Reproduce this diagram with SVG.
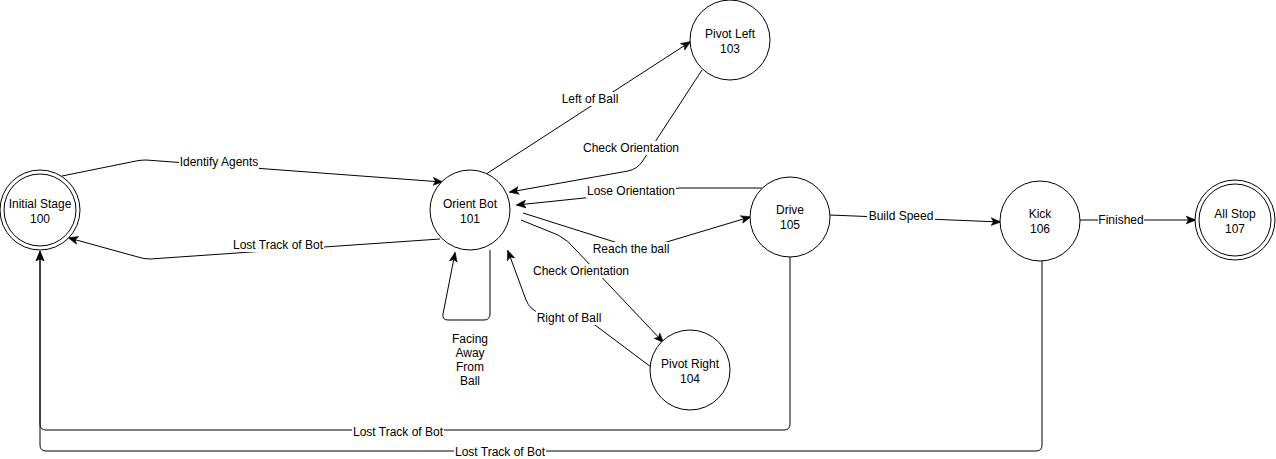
<svg xmlns="http://www.w3.org/2000/svg" width="1276" height="459" viewBox="0 0 1276 459">
<style>
.n{fill:#fff;stroke:#000;stroke-width:1}
.t{font-family:"Liberation Sans",Arial,sans-serif;font-size:12px;fill:#000;text-anchor:middle}
.e{fill:none;stroke:#000;stroke-width:1}
.bg{fill:#fff}
</style>
<defs>
<marker id="a" viewBox="0 0 10 10" refX="9" refY="5" markerWidth="10" markerHeight="10" markerUnits="userSpaceOnUse" orient="auto">
<path d="M0,1 L10,5 L0,9 L2.5,5 Z" fill="#000" stroke="#000" stroke-width="0.5"/>
</marker>
</defs>
<rect width="1276" height="459" fill="#fff"/>
<g id="edges">
<path class="e" d="M62 176 L136 161 Q141 160 146 160 L442 182" marker-end="url(#a)"/>
<path class="e" d="M440 239 L150 259 Q144 259 138 257 L69 238" marker-end="url(#a)"/>
<path class="e" d="M480 178 L690 42" marker-end="url(#a)"/>
<path class="e" d="M702 70 L642 162 Q637 169 628 171 L510 192" marker-end="url(#a)"/>
<path class="e" d="M762 188 L680 188 L517 205" marker-end="url(#a)"/>
<path class="e" d="M523 213 L640 250 L750 217" marker-end="url(#a)"/>
<path class="e" d="M521 220 L558 235 Q568 240 576 250 L663 342" marker-end="url(#a)"/>
<path class="e" d="M651 367 L595 325 L540 313 Q530 310 526 300 L508 251" marker-end="url(#a)"/>
<path class="e" d="M490 250 L490 314 Q490 320 484 320 L448 320 Q442 320 443 314 L455 253" marker-end="url(#a)"/>
<path class="e" d="M830 215 L1000 222" marker-end="url(#a)"/>
<path class="e" d="M1080 220 L1195 220" marker-end="url(#a)"/>
<path class="e" d="M790 257 L790 424 Q790 430 784 430 L46 430 Q40 430 40 424 L40 252" marker-end="url(#a)"/>
<path class="e" d="M1042 261 L1042 445 Q1042 451 1036 451 L46 451 Q40 451 40 445 L40 252" marker-end="url(#a)"/>
<rect class="bg" x="179" y="155" width="80" height="14"/><text class="t" x="219" y="166">Identify Agents</text>
<rect class="bg" x="232" y="238" width="92" height="14"/><text class="t" x="278" y="249">Lost Track of Bot</text>
<rect class="bg" x="562" y="92" width="56" height="14"/><text class="t" x="590" y="103">Left of Ball</text>
<rect class="bg" x="582" y="141" width="98" height="14"/><text class="t" x="631" y="152">Check Orientation</text>
<rect class="bg" x="586" y="184" width="90" height="14"/><text class="t" x="631" y="195">Lose Orientation</text>
<rect class="bg" x="591" y="242" width="80" height="14"/><text class="t" x="631" y="253">Reach the ball</text>
<rect class="bg" x="532" y="264" width="98" height="14"/><text class="t" x="581" y="275">Check Orientation</text>
<rect class="bg" x="536" y="311" width="66" height="14"/><text class="t" x="569" y="322">Right of Ball</text>
<text class="t" x="470" y="343">Facing</text>
<text class="t" x="470" y="357">Away</text>
<text class="t" x="470" y="371">From</text>
<text class="t" x="470" y="385">Ball</text>
<rect class="bg" x="867" y="209" width="68" height="14"/><text class="t" x="901" y="220">Build Speed</text>
<rect class="bg" x="1098" y="213" width="46" height="14"/><text class="t" x="1121" y="224">Finished</text>
<rect class="bg" x="352" y="425" width="92" height="14"/><text class="t" x="398" y="436">Lost Track of Bot</text>
<rect class="bg" x="454" y="445" width="92" height="14"/><text class="t" x="500" y="456">Lost Track of Bot</text>
</g>
<g id="n100"><circle class="n" cx="40" cy="210" r="40"/><circle class="n" cx="40" cy="210" r="36"/><text class="t" x="40" y="208">Initial Stage</text><text class="t" x="40" y="223">100</text></g>
<g id="n101"><circle class="n" cx="470" cy="210" r="40"/><text class="t" x="470" y="208">Orient Bot</text><text class="t" x="470" y="223">101</text></g>
<g id="n103"><circle class="n" cx="730" cy="40" r="40"/><text class="t" x="730" y="38">Pivot Left</text><text class="t" x="730" y="53">103</text></g>
<g id="n104"><circle class="n" cx="690" cy="370" r="40"/><text class="t" x="690" y="368">Pivot Right</text><text class="t" x="690" y="383">104</text></g>
<g id="n105"><circle class="n" cx="790" cy="217" r="40"/><text class="t" x="790" y="214">Drive</text><text class="t" x="790" y="229">105</text></g>
<g id="n106"><circle class="n" cx="1040" cy="221" r="40"/><text class="t" x="1040" y="218">Kick</text><text class="t" x="1040" y="233">106</text></g>
<g id="n107"><circle class="n" cx="1235" cy="220" r="40"/><circle class="n" cx="1235" cy="220" r="36"/><text class="t" x="1235" y="218">All Stop</text><text class="t" x="1235" y="233">107</text></g>
</svg>
